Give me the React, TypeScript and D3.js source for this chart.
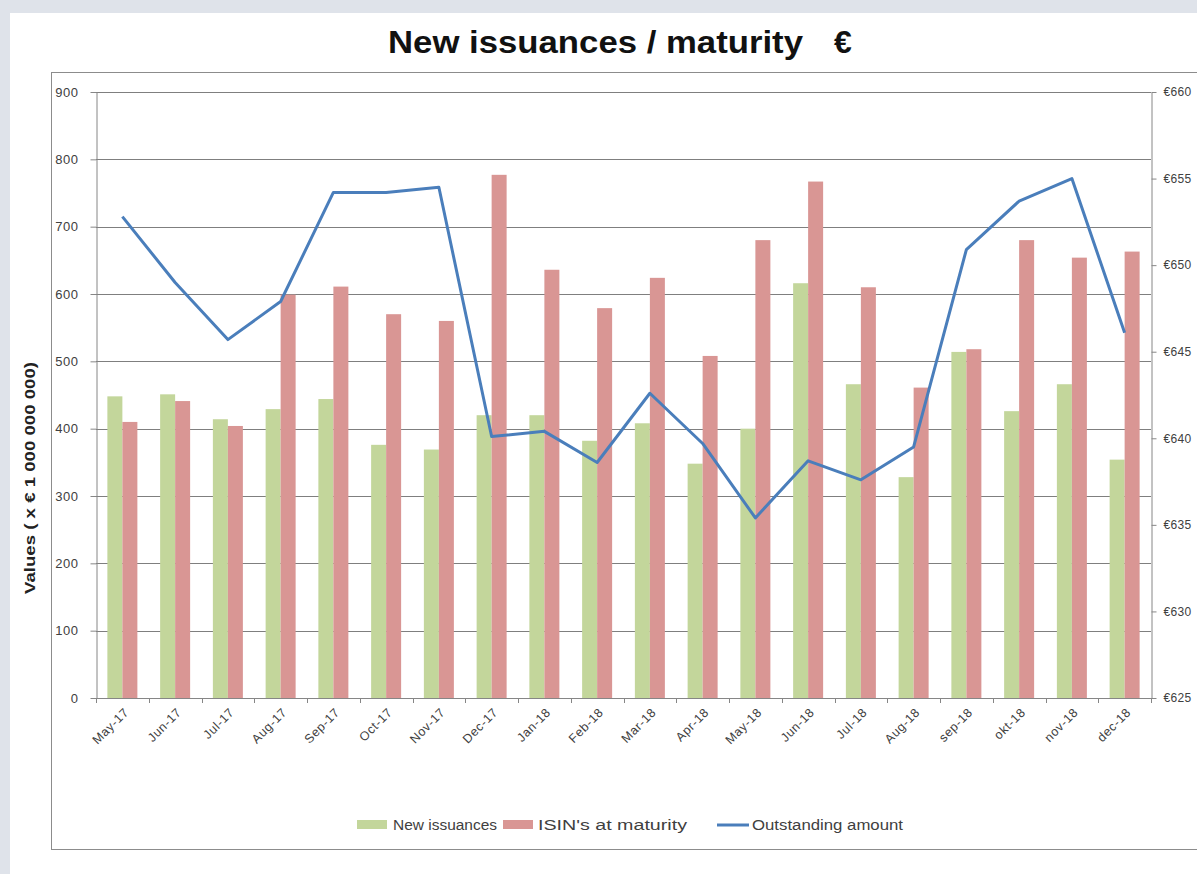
import React, { useEffect, useRef } from "react";
import * as d3 from "d3";

const months = [
  "May-17", "Jun-17", "Jul-17", "Aug-17", "Sep-17", "Oct-17", "Nov-17", "Dec-17",
  "Jan-18", "Feb-18", "Mar-18", "Apr-18", "May-18", "Jun-18", "Jul-18", "Aug-18",
  "sep-18", "okt-18", "nov-18", "dec-18",
];
const newIssuances = [448, 451, 414, 429, 444, 376, 369, 420, 420, 382, 408, 348, 400, 616, 466, 328, 514, 426, 466, 354];
const maturities = [410, 441, 404, 599, 611, 570, 560, 777, 636, 579, 624, 508, 680, 767, 610, 461, 518, 680, 654, 663];
const outstanding = [652.8, 649.0, 645.7, 647.9, 654.2, 654.2, 654.5, 640.1, 640.4, 638.6, 642.6, 639.7, 635.4, 638.7, 637.6, 639.5, 650.9, 653.7, 655.0, 646.1];
const leftTicks = [0, 100, 200, 300, 400, 500, 600, 700, 800, 900];
const rightTicks = [625, 630, 635, 640, 645, 650, 655, 660];
const seriesNames = ["New issuances", "ISIN's at maturity", "Outstanding amount"];

const FONT = "'Liberation Sans', Arial, sans-serif";

const App = () => {
  const ref = useRef<SVGSVGElement>(null);

  function draw() {
    const svg = d3.select(ref.current);
    svg.selectAll("*").remove();
    const width = 1197;
    const height = 874;
    const left = 96, right = 1151, top = 92, bottom = 698;

    // page background and panels
    svg.append("rect").attr("width", width).attr("height", height).attr("fill", "#dfe3ea");
    svg.append("rect").attr("x", 10).attr("y", 13).attr("width", 1300).attr("height", 900).attr("fill", "#fff");
    svg.append("rect").attr("x", 51.5).attr("y", 72.5).attr("width", 1300).attr("height", 777)
      .attr("fill", "#fff").attr("stroke", "#8c8c8c");

    svg.append("text").attr("x", 388).attr("y", 53)
      .attr("font-family", FONT).attr("font-weight", "bold").attr("font-size", 32)
      .attr("textLength", 415).attr("lengthAdjust", "spacingAndGlyphs")
      .attr("fill", "#111").text("New issuances / maturity");
    svg.append("text").attr("x", 834).attr("y", 53)
      .attr("font-family", FONT).attr("font-weight", "bold").attr("font-size", 32)
      .attr("fill", "#111").text("€");

    const x = d3.scaleBand().domain(months).range([left, right]);
    const inner = d3.scaleBand().domain(["n", "m"])
      .range([x.bandwidth() / 2 - 15, x.bandwidth() / 2 + 15]);
    const y = d3.scaleLinear().domain([0, 900]).range([bottom, top]);
    const y2 = d3.scaleLinear().domain([625, 660]).range([bottom, top]);

    // gridlines
    svg.append("g").selectAll("line").data(leftTicks.filter((d) => d > 0)).join("line")
      .attr("x1", left).attr("x2", right)
      .attr("y1", (d) => Math.round(y(d)) + 0.5).attr("y2", (d) => Math.round(y(d)) + 0.5)
      .attr("stroke", "#7f7f7f");

    // bars
    const bars = svg.append("g");
    bars.selectAll("rect.n").data(months).join("rect").attr("class", "n")
      .attr("x", (d) => x(d)! + inner("n")!)
      .attr("y", (d, i) => y(newIssuances[i]))
      .attr("width", inner.bandwidth())
      .attr("height", (d, i) => y(0) - y(newIssuances[i]))
      .attr("fill", "#c3d69b");
    bars.selectAll("rect.m").data(months).join("rect").attr("class", "m")
      .attr("x", (d) => x(d)! + inner("m")!)
      .attr("y", (d, i) => y(maturities[i]))
      .attr("width", inner.bandwidth())
      .attr("height", (d, i) => y(0) - y(maturities[i]))
      .attr("fill", "#d99694");

    // line
    const line = d3.line<number>()
      .x((d, i) => x(months[i])! + x.bandwidth() / 2)
      .y((d) => y2(d));
    svg.append("path").datum(outstanding).attr("d", line)
      .attr("fill", "none").attr("stroke", "#4a7ebb").attr("stroke-width", 3)
      .attr("stroke-linejoin", "round");

    // left axis
    svg.append("g").attr("transform", `translate(${left + 0.5},0)`)
      .call(d3.axisLeft(y).tickValues(leftTicks).tickSize(6).tickPadding(12).tickSizeOuter(0))
      .call((g) => g.selectAll("line, path").attr("stroke", "#868686"))
      .call((g) => g.selectAll("text").attr("font-family", FONT).attr("font-size", 13)
        .attr("letter-spacing", 0.5).attr("fill", "#404040"));

    // right axis
    svg.append("g").attr("transform", `translate(${right + 0.5},0)`)
      .call(d3.axisRight(y2).tickValues(rightTicks).tickSize(5).tickPadding(7).tickSizeOuter(0)
        .tickFormat((d) => `€${d}`))
      .call((g) => g.selectAll("line, path").attr("stroke", "#868686"))
      .call((g) => g.selectAll("text").attr("font-family", FONT).attr("font-size", 12)
        .attr("letter-spacing", 0.3).attr("fill", "#404040"));

    // bottom axis
    const xg = svg.append("g");
    xg.append("line").attr("x1", left).attr("x2", right)
      .attr("y1", bottom + 0.5).attr("y2", bottom + 0.5).attr("stroke", "#868686");
    xg.selectAll("line.t").data([...months, "end"]).join("line").attr("class", "t")
      .attr("x1", (d) => Math.round(d === "end" ? right : x(d)!) + 0.5)
      .attr("x2", (d) => Math.round(d === "end" ? right : x(d)!) + 0.5)
      .attr("y1", bottom).attr("y2", bottom + 5).attr("stroke", "#868686");
    xg.selectAll("text").data(months).join("text")
      .attr("transform", (d) => `translate(${x(d)! + x.bandwidth() / 2 + 4},${bottom + 12}) rotate(-45)`)
      .attr("text-anchor", "end").attr("dy", "0.35em")
      .attr("font-family", FONT).attr("font-size", 12.5).attr("letter-spacing", 0.6)
      .attr("fill", "#404040")
      .text((d) => d);

    // y axis title
    svg.append("text").attr("transform", "translate(35,478) rotate(-90)")
      .attr("text-anchor", "middle").attr("font-family", FONT).attr("font-size", 14)
      .attr("font-weight", "bold").attr("textLength", 232).attr("lengthAdjust", "spacingAndGlyphs")
      .attr("fill", "#222").text("Values  ( x € 1 000 000 000)");

    // legend
    const lg = svg.append("g").attr("font-family", FONT).attr("font-size", 14).attr("fill", "#404040");
    lg.append("rect").attr("x", 357).attr("y", 820).attr("width", 30).attr("height", 9).attr("fill", "#c3d69b");
    lg.append("text").attr("x", 393).attr("y", 830).attr("textLength", 104).attr("lengthAdjust", "spacingAndGlyphs")
      .text(seriesNames[0]);
    lg.append("rect").attr("x", 503).attr("y", 820).attr("width", 30).attr("height", 9).attr("fill", "#d99694");
    lg.append("text").attr("x", 538).attr("y", 830).attr("textLength", 149).attr("lengthAdjust", "spacingAndGlyphs")
      .text(seriesNames[1]);
    lg.append("line").attr("x1", 717).attr("x2", 749).attr("y1", 825).attr("y2", 825)
      .attr("stroke", "#4a7ebb").attr("stroke-width", 3);
    lg.append("text").attr("x", 752).attr("y", 830).attr("textLength", 151).attr("lengthAdjust", "spacingAndGlyphs")
      .text(seriesNames[2]);
  }

  useEffect(() => {
    draw();
  }, []);

  return (
    <svg ref={ref} width={1197} height={874}
      style={{ position: "fixed", left: 0, top: 0, display: "block" }} />
  );
};

export default App;
